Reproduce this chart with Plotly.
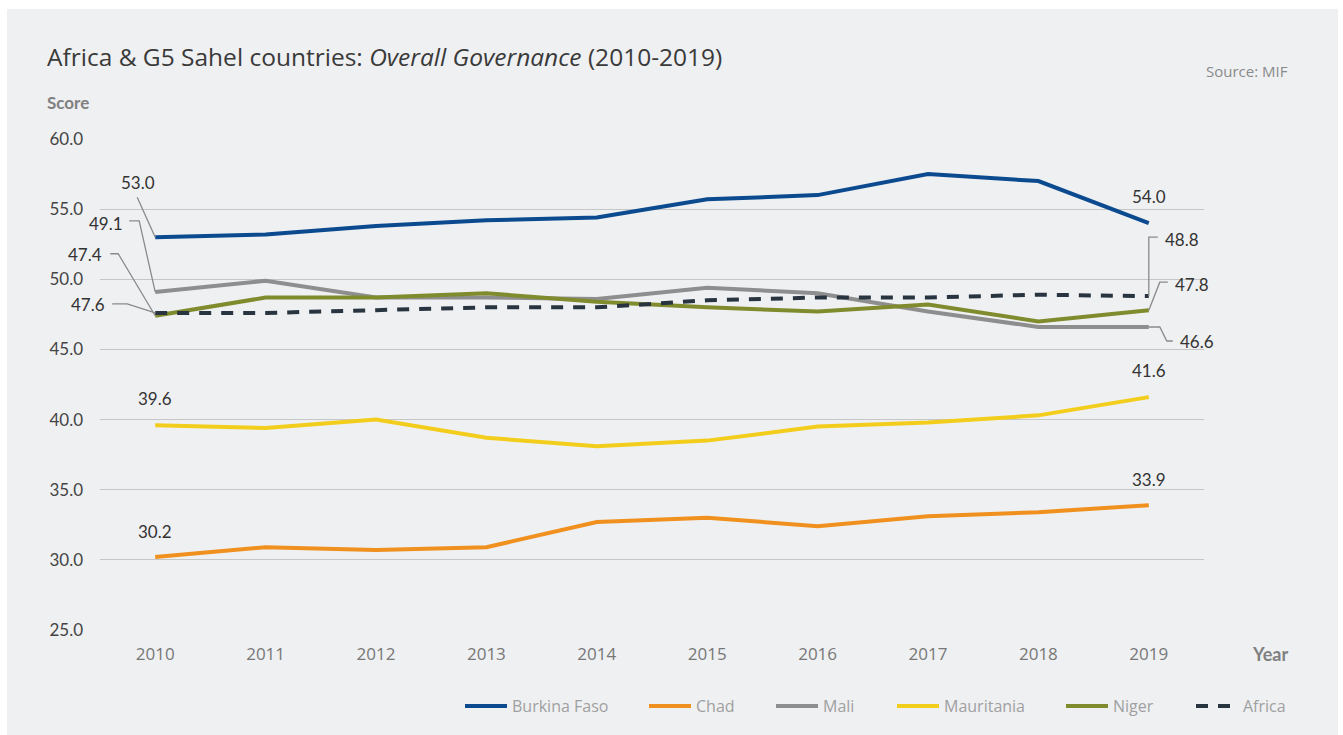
import plotly.graph_objects as go

years = [2010, 2011, 2012, 2013, 2014, 2015, 2016, 2017, 2018, 2019]

burkina_faso = [53.0, 53.2, 53.8, 54.2, 54.4, 55.7, 56.0, 57.5, 57.0, 54.0]
chad = [30.2, 30.9, 30.7, 30.9, 32.7, 33.0, 32.4, 33.1, 33.4, 33.9]
mali = [49.1, 49.9, 48.7, 48.7, 48.6, 49.4, 49.0, 47.7, 46.6, 46.6]
mauritania = [39.6, 39.4, 40.0, 38.7, 38.1, 38.5, 39.5, 39.8, 40.3, 41.6]
niger = [47.4, 48.7, 48.7, 49.0, 48.4, 48.0, 47.7, 48.2, 47.0, 47.8]
africa = [47.6, 47.6, 47.8, 48.0, 48.0, 48.5, 48.7, 48.7, 48.9, 48.8]

y_ticks = [25.0, 30.0, 35.0, 40.0, 45.0, 50.0, 55.0, 60.0]

series = [
    ("Burkina Faso", burkina_faso, "#0b4a8f", "solid"),
    ("Chad", chad, "#f0901e", "solid"),
    ("Mali", mali, "#8e8e8e", "solid"),
    ("Mauritania", mauritania, "#f3cd1c", "solid"),
    ("Niger", niger, "#7f8b2d", "solid"),
    ("Africa", africa, "#283540", "dash"),
]

# legend anchor x positions (pixels from left of page)
legend_px = [460, 644, 771, 892, 1061, 1191]

W, H = 1343, 735
L, R, T, B = 100, 139, 139, 105
PW = W - L - R
PH = H - T - B

SANS = "'Open Sans', 'Noto Sans', sans-serif"
LATO = "Lato, 'Noto Sans', sans-serif"

fig = go.Figure()
layout_legends = {}
for i, (name, vals, color, dash) in enumerate(series):
    key = "legend" if i == 0 else f"legend{i + 1}"
    fig.add_trace(go.Scatter(
        x=years, y=vals, name=name, mode="lines",
        line=dict(color=color, width=4, dash=dash if dash == "solid" else "12px,10px"),
        legend=key, hoverinfo="x+y+name",
    ))
    layout_legends[key] = dict(
        x=(legend_px[i] - L) / PW, xanchor="left",
        y=(T + PH - 706) / PH, yanchor="middle",
        orientation="h", bgcolor="rgba(0,0,0,0)", itemwidth=42,
        font=dict(family=SANS, size=16, color="#a0a0a0"),
    )

# value labels: (year index, series values, dx, dy, leader path in pixels relative to the point,
# with y growing upwards)
labels = [
    (0, burkina_faso, -17, 55, "M0,0 L-18,40"),
    (0, mali, -49, 68, "M0,0 L-16,71 L-26,71"),
    (0, niger, -70, 61, "M0,0 L-37,62 L-45,62"),
    (0, africa, -67, 8, "M0,0 L-28,9 L-43,9"),
    (9, burkina_faso, 0, 27, None),
    (9, africa, 33, 57, "M0,0 L0,59 L9,59"),
    (9, niger, 43, 26, "M0,0 L11,28 L19,28"),
    (9, mali, 48, -15, "M0,0 L11,0 L18,-14 L24,-14"),
    (0, mauritania, 0, 27, None),
    (9, mauritania, 0, 27, None),
    (0, chad, 0, 26, None),
    (9, chad, 0, 26, None),
]

shapes = [
    dict(type="rect", xref="paper", yref="paper",
         x0=(7 - L) / PW, x1=(1338 - L) / PW,
         y0=(T + PH - 760) / PH, y1=(T + PH - 9) / PH,
         fillcolor="#eff0f2", line=dict(width=0), layer="below"),
]
annotations = []
for idx, vals, dx, dy, path in labels:
    x, v = years[idx], vals[idx]
    annotations.append(dict(
        x=x, y=v, xref="x", yref="y", text=f"{v:.1f}", showarrow=False,
        xshift=dx, yshift=dy,
        font=dict(family=LATO, size=17, color="#333333"),
    ))
    if path:
        shapes.append(dict(
            type="path", xref="x", yref="y", xsizemode="pixel", ysizemode="pixel",
            xanchor=x, yanchor=v, path=path,
            line=dict(color="#8a8a8a", width=1.3), layer="above",
        ))

annotations += [
    dict(text="Africa &amp; G5 Sahel countries: <i>Overall Governance</i> (2010-2019)",
         xref="paper", yref="paper", x=(45 - L) / PW, y=(T + PH - 56) / PH,
         xanchor="left", yanchor="middle", showarrow=False,
         font=dict(family=SANS, size=24.5, color="#3a3a3a")),
    dict(text="Source: MIF", xref="paper", yref="paper",
         x=(1290 - L) / PW, y=(T + PH - 71) / PH, xanchor="right", yanchor="middle",
         showarrow=False,
         font=dict(family=SANS, size=15, color="#8a8a8a")),
    dict(text="<b>Score</b>", xref="paper", yref="paper",
         x=(45 - L) / PW, y=(T + PH - 103) / PH, xanchor="left", yanchor="middle",
         showarrow=False,
         font=dict(family=LATO, size=17, color="#808080")),
    dict(text="<b>Year</b>", xref="paper", yref="paper",
         x=(1250 - L) / PW, y=(T + PH - 654) / PH, xanchor="left", yanchor="middle",
         showarrow=False,
         font=dict(family=LATO, size=18, color="#808080")),
]

fig.update_layout(
    width=W, height=H,
    margin=dict(l=L, r=R, t=T, b=B),
    paper_bgcolor="white", plot_bgcolor="rgba(0,0,0,0)",
    showlegend=True,
    shapes=shapes, annotations=annotations,
    font=dict(family=LATO),
    xaxis=dict(range=[2009.5, 2019.5], tickvals=years, ticktext=[str(y) for y in years],
               showgrid=False, zeroline=False, showline=False, ticks="",
               tickfont=dict(family=SANS, size=17, color="#777777"), ticklabelstandoff=12),
    yaxis=dict(range=[25, 60], tickvals=y_ticks, ticktext=[f"{t:.1f}" for t in y_ticks],
               showgrid=True, gridcolor="#c6c6c6", gridwidth=1, zeroline=False,
               showline=False, ticks="", tickfont=dict(size=17, color="#444444"),
               ticklabelstandoff=16),
    **layout_legends,
)

fig.write_html("out.html")
